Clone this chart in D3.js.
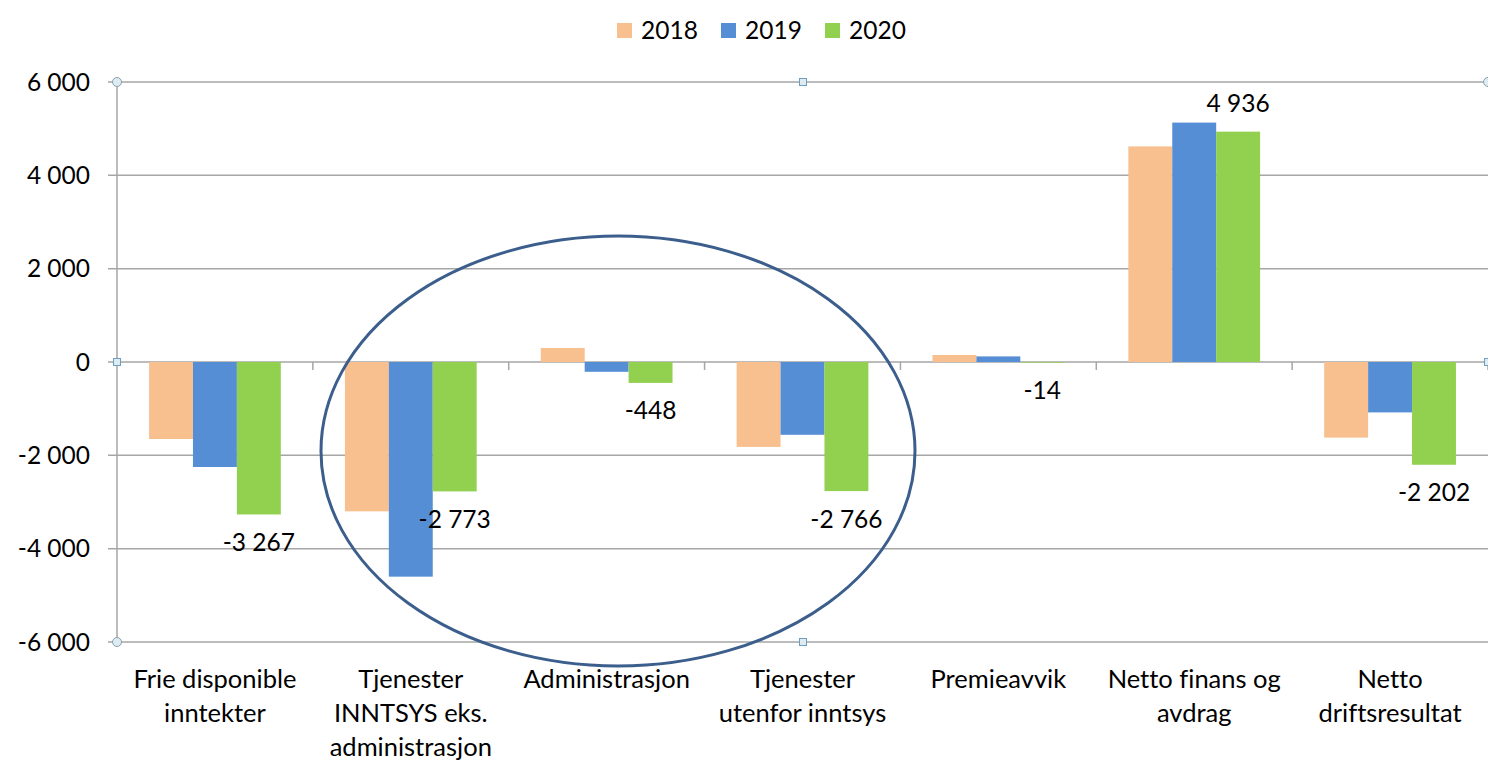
<!DOCTYPE html>
<html>
<head>
<meta charset="utf-8">
<script src="https://cdn.jsdelivr.net/npm/d3@7"></script>
<style>
  html, body { margin: 0; padding: 0; background: #fff; }
  svg { display: block; font-family: Lato, "Open Sans", sans-serif; font-variant-ligatures: none; }
</style>
</head>
<body>
<svg id="chart" width="1488" height="761"></svg>
<script>
const categories = [
  ['Frie disponible', 'inntekter'],
  ['Tjenester', 'INNTSYS eks.', 'administrasjon'],
  ['Administrasjon'],
  ['Tjenester', 'utenfor inntsys'],
  ['Premieavvik'],
  ['Netto finans og', 'avdrag'],
  ['Netto', 'driftsresultat']
];
const years = ['2018', '2019', '2020'];
const values2018 = [-1650, -3200, 300, -1820, 150, 4620, -1620];
const values2019 = [-2250, -4600, -210, -1560, 120, 5130, -1080];
const values2020 = [-3267, -2773, -448, -2766, -14, 4936, -2202];
const yTicks = [-6000, -4000, -2000, 0, 2000, 4000, 6000];
const colors = ['#F9C08F', '#558ED5', '#92D050'];

const seriesValues = [values2018, values2019, values2020];
const fmt = v => (v < 0 ? '-' : '') + d3.format(',')(Math.abs(v)).replace(/,/g, ' ');

const svg = d3.select('#chart');
const plotLeft = 117, plotRight = 1488, plotTop = 82, plotBottom = 642;

const x0 = d3.scaleBand().domain(d3.range(categories.length)).range([plotLeft, plotRight]);
const x1 = d3.scaleBand().domain(years).range([0, x0.bandwidth()]).paddingOuter(0.73);
const y = d3.scaleLinear().domain([-6000, 6000]).range([plotBottom, plotTop]);

// gridlines
svg.append('g').selectAll('line').data(yTicks).enter().append('line')
  .attr('x1', plotLeft - 9).attr('x2', plotRight)
  .attr('y1', d => y(d)).attr('y2', d => y(d))
  .attr('stroke', '#a6a6a6').attr('stroke-width', 1.5);

// y axis line
svg.append('line').attr('x1', plotLeft).attr('x2', plotLeft).attr('y1', plotTop).attr('y2', plotBottom)
  .attr('stroke', '#a6a6a6').attr('stroke-width', 1.5);

// y tick labels
svg.append('g').selectAll('text').data(yTicks).enter().append('text')
  .attr('x', 90).attr('y', d => y(d)).attr('dy', '0.35em')
  .attr('text-anchor', 'end').attr('font-size', 24.5).attr('fill', '#000')
  .text(d => fmt(d));

// category boundary ticks on zero line
svg.append('g').selectAll('line').data(d3.range(1, categories.length + 1)).enter().append('line')
  .attr('x1', i => x0(i - 1) + x0.bandwidth()).attr('x2', i => x0(i - 1) + x0.bandwidth())
  .attr('y1', y(0)).attr('y2', y(0) + 8)
  .attr('stroke', '#a6a6a6').attr('stroke-width', 1.5);

// bars
const groups = svg.append('g').selectAll('g').data(categories).enter().append('g')
  .attr('transform', (d, i) => `translate(${x0(i)},0)`);
groups.selectAll('rect').data((d, i) => years.map((yr, k) => ({ yr, k, v: seriesValues[k][i] })))
  .enter().append('rect')
  .attr('x', d => x1(d.yr)).attr('width', x1.bandwidth())
  .attr('y', d => y(Math.max(0, d.v)))
  .attr('height', d => Math.abs(y(d.v) - y(0)))
  .attr('fill', d => colors[d.k]);

// 2020 value labels
svg.append('g').selectAll('text').data(values2020).enter().append('text')
  .attr('x', (d, i) => x0(i) + x1('2020') + x1.bandwidth() / 2)
  .attr('y', d => d < 0 ? y(d) + 28 : y(d) - 28)
  .attr('dy', '0.35em').attr('text-anchor', 'middle')
  .attr('font-size', 24.5).attr('fill', '#000')
  .text(d => fmt(d));

// category labels
const catLabels = svg.append('g').selectAll('text').data(categories).enter().append('text')
  .attr('x', (d, i) => x0(i) + x0.bandwidth() / 2)
  .attr('y', 688).attr('text-anchor', 'middle')
  .attr('font-size', 25.5).attr('fill', '#000');
catLabels.selectAll('tspan').data(d => d).enter().append('tspan')
  .attr('x', function () { return d3.select(this.parentNode).attr('x'); })
  .attr('dy', (d, j) => j === 0 ? 0 : 34)
  .text(d => d);

// legend
const legendX = [617, 721, 825];
const legend = svg.append('g').selectAll('g').data(years).enter().append('g')
  .attr('transform', (d, i) => `translate(${legendX[i]},0)`);
legend.append('rect').attr('x', 0).attr('y', 23).attr('width', 15).attr('height', 15)
  .attr('fill', (d, i) => colors[i]);
legend.append('text').attr('x', 24).attr('y', 30).attr('dy', '0.35em')
  .attr('font-size', 24.5).attr('fill', '#000').text(d => d);

// ellipse annotation
svg.append('ellipse').attr('cx', 618).attr('cy', 451).attr('rx', 297).attr('ry', 215)
  .attr('fill', 'none').attr('stroke', '#3b5e8c').attr('stroke-width', 3);

// selection handles
const midX = 803;
const handles = [
  { x: plotLeft, y: plotTop, t: 'c' }, { x: midX, y: plotTop, t: 's' }, { x: plotRight, y: plotTop, t: 'c' },
  { x: plotLeft, y: y(0), t: 's' }, { x: plotRight, y: y(0), t: 's' },
  { x: plotLeft, y: plotBottom, t: 'c' }, { x: midX, y: plotBottom, t: 's' }
];
const hg = svg.append('g');
handles.forEach(h => {
  if (h.t === 'c') {
    hg.append('circle').attr('cx', h.x).attr('cy', h.y).attr('r', 4.5)
      .attr('fill', '#dcecf2').attr('stroke', '#8aa0aa').attr('stroke-width', 1);
  } else {
    hg.append('rect').attr('x', h.x - 3.5).attr('y', h.y - 3.5).attr('width', 7).attr('height', 7)
      .attr('fill', '#dcecf2').attr('stroke', '#6f9fc0').attr('stroke-width', 1);
  }
});
</script>
</body>
</html>
